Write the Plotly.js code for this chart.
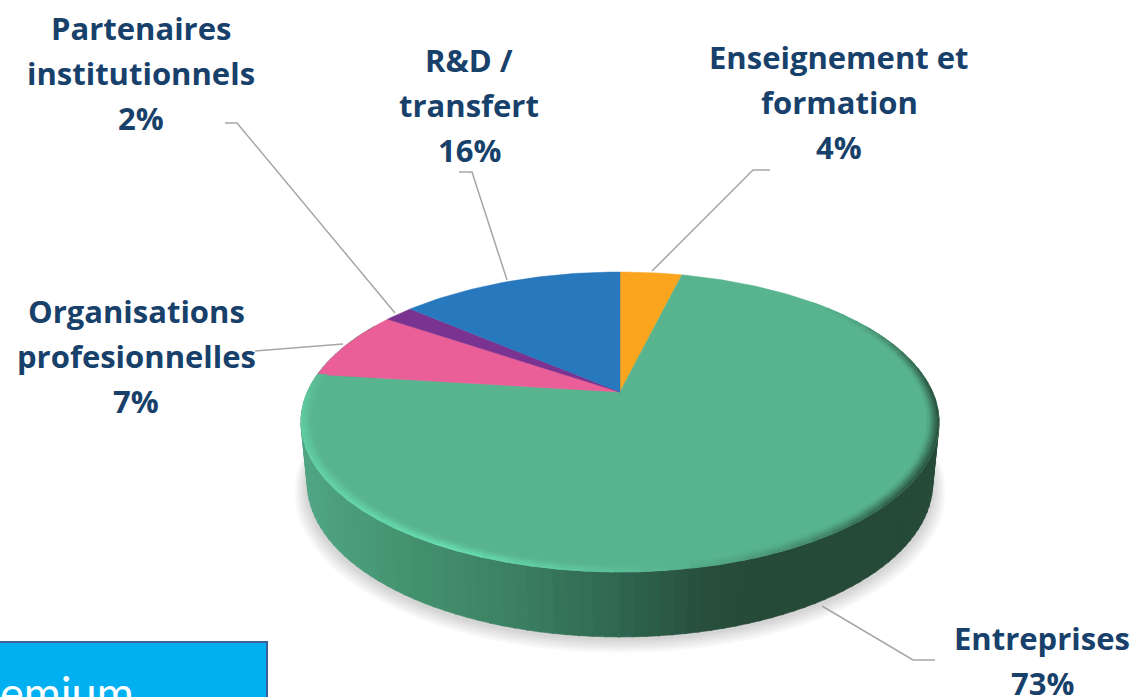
<!DOCTYPE html>
<html><head><meta charset="utf-8">
<script src="https://cdn.plot.ly/plotly-3.0.1.min.js"></script>
<style>html,body{margin:0;padding:0;background:#fff;overflow:hidden}#c{width:1135px;height:697px}</style>
</head><body><div id="c"></div><script>
// Data, clockwise from 12 o'clock
const categories = ["Enseignement et formation","Entreprises","Organisations profesionnelles","Partenaires institutionnels","R&D / transfert"];
const sliceValues = [3.8,73.2,7.5,1.8,13.7];       // slice sizes
const labelPercents = ["4%","73%","7%","2%","16%"]; // printed labels
const sliceColors = ["#FBA51F","#58B48E","#EA5F98","#7B3391","#2878BE"];
const labelLines = [["Enseignement et","formation"],["Entreprises"],["Organisations","profesionnelles"],["Partenaires","institutionnels"],["R&D /","transfert"]];
const labelX = [839,1042,136,141,469];
const labelY = [57,638,311,28,60];
const leaderX = [[652,753,770],[822,913,935],[343,255],[395,237,225],[507,472,459]];
const leaderY = [[271,170,170],[606,660,660],[344,351],[313,123,123],[280,172,172]];
const boxText = "emium";

// Perspective disc geometry
const cx=620, cy=392, A=144, B=312.6, k=0.2;
const rad=d=>d*Math.PI/180;
function topPt(d,r=1){const u=r*Math.sin(rad(d)),v=r*Math.cos(rad(d)),w=1+k*v;return [cx+B*u/w,cy-A*v/w];}
function botPt(d,r=1){const p=topPt(d,r),v=r*Math.cos(rad(d));return [cx+(p[0]-cx)*0.98,p[1]+60-5*v];}
const hex=h=>[1,3,5].map(i=>parseInt(h.substr(i,2),16));
const mix=(a,b,t)=>a.map((c,i)=>Math.round(c+(b[i]-c)*t));
const rgb=c=>`rgb(${c[0]},${c[1]},${c[2]})`;
function interp(knots,x){
  if(x<=knots[0][0])return knots[0][1];
  for(let i=1;i<knots.length;i++) if(x<=knots[i][0]){
    const t=(x-knots[i-1][0])/(knots[i][0]-knots[i-1][0]);
    const a=knots[i-1][1],b=knots[i][1];
    return Array.isArray(a)?mix(a,b,t):a+(b-a)*t;
  }
  return knots[knots.length-1][1];
}
function poly(xs,ys,color){return {type:'scatter',mode:'lines',x:xs,y:ys,fill:'toself',fillcolor:color,line:{color:color,width:0.6},hoverinfo:'skip',showlegend:false};}

const traces=[];
// soft shadow
for(let i=6;i>=1;i--){
  const xs=[],ys=[],r=1+i*0.0065;
  for(let d=0;d<=360;d+=4){const p=botPt(d,r);xs.push(p[0]);ys.push(p[1]+2+i*0.8);}
  traces.push({type:'scatter',mode:'lines',x:xs,y:ys,fill:'toself',fillcolor:'rgba(0,0,0,0.028)',line:{width:0},hoverinfo:'skip',showlegend:false});
}
// side wall, shaded left to right
const wallKnots=[[305,hex("#50A584")],[400,hex("#44936F")],[500,hex("#3D8264")],[620,hex("#2F6650")],[700,hex("#284F3D")],[760,hex("#264A38")],[940,hex("#264A38")]];
for(let d=60;d<300;d+=2){
  const a=topPt(d),b=topPt(d+2.3),c=botPt(d+2.3),e=botPt(d);
  traces.push(poly([a[0],b[0],c[0],e[0],a[0]],[a[1],b[1],c[1],e[1],a[1]],rgb(interp(wallKnots,(a[0]+b[0])/2))));
}
// slices of the top face
const total=sliceValues.reduce((s,v)=>s+v,0);
let cum=0;
const greenEnd=(sliceValues[0]+sliceValues[1])/total*360;
sliceValues.forEach((v,i)=>{
  const d0=cum/total*360,d1=(cum+v)/total*360;cum+=v;
  const xs=[cx],ys=[cy];
  for(let d=d0;d<d1;d+=1){const p=topPt(d);xs.push(p[0]);ys.push(p[1]);}
  const p=topPt(d1);xs.push(p[0],cx);ys.push(p[1],cy);
  traces.push({type:'scatter',mode:'lines',name:categories[i],x:xs,y:ys,fill:'toself',fillcolor:sliceColors[i],
    line:{color:sliceColors[i],width:0.5},text:categories[i]+' '+labelPercents[i],hoverinfo:'text',showlegend:false});
});
// bevelled rim of the green slice
const face=hex(sliceColors[1]),light=hex("#6BE3B4"),dark=hex("#264A38");
const rimKnots=[[45,0],[60,-0.2],[75,-0.7],[90,-1],[110,-1],[130,-0.9],[155,-0.35],[172,0],[188,0.5],[205,1],[240,0.7],[265,0.5],[278,0.15]];
const levels=5,rimW=0.036,step=4;
for(let j=0;j<levels;j++){
  const r0=1-j*rimW/levels,r1=1-(j+1)*rimW/levels,f=1-(j+0.5)/levels;
  for(let d=45;d<greenEnd-0.01;d+=step){
    const dEnd=Math.min(d+step+0.4,greenEnd);
    const s=interp(rimKnots,d+step/2)*f;
    if(Math.abs(s)<0.02)continue;
    const col=rgb(mix(face,s>0?light:dark,Math.abs(s)));
    const a=topPt(d,r0),b=topPt(dEnd,r0),c=topPt(dEnd,r1),e=topPt(d,r1);
    traces.push(poly([a[0],b[0],c[0],e[0],a[0]],[a[1],b[1],c[1],e[1],a[1]],col));
  }
}
// leader lines
leaderX.forEach((xs,i)=>traces.push({type:'scatter',mode:'lines',x:xs,y:leaderY[i],line:{color:'#A6A6A6',width:1.5},hoverinfo:'skip',showlegend:false}));

// labels
const navy="#17406A",lineGap=45,annotations=[];
const textFont={family:'"Open Sans", sans-serif',size:31,color:navy,weight:700};
categories.forEach((c,i)=>{
  labelLines[i].concat([labelPercents[i]]).forEach((t,j)=>annotations.push({
    xref:'x',yref:'y',x:labelX[i],y:labelY[i]+j*lineGap,text:'<b>'+t.replace('&','&amp;')+'</b>',showarrow:false,
    xanchor:'center',yanchor:'middle',font:textFont}));
});
annotations.push({xref:'x',yref:'y',x:1,xshift:-3,y:692,text:boxText,showarrow:false,xanchor:'left',yanchor:'middle',
  font:{family:'Lato, sans-serif',size:45,color:'#FFFFFF'}});

const layout={width:1135,height:697,margin:{l:0,r:0,t:0,b:0},paper_bgcolor:'#fff',plot_bgcolor:'#fff',showlegend:false,
  xaxis:{range:[0,1135],visible:false,fixedrange:true},yaxis:{range:[697,0],visible:false,fixedrange:true},
  annotations:annotations,
  shapes:[{type:'rect',xref:'x',yref:'y',x0:-3,x1:267,y0:642,y1:702,fillcolor:'#00B0F0',line:{color:'#3F5E9C',width:2},layer:'below'}]};
Plotly.newPlot('c',traces,layout,{displayModeBar:false,staticPlot:true});
</script></body></html>
